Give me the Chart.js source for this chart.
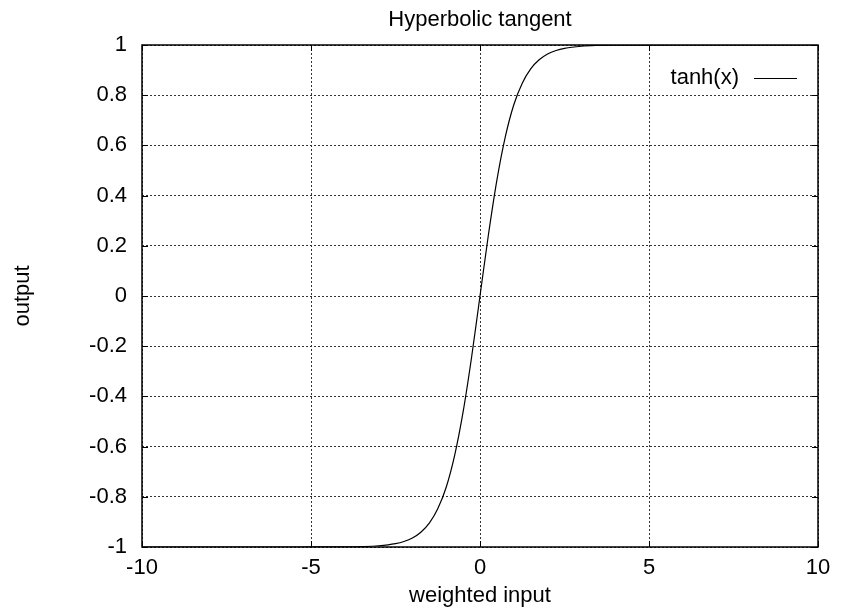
<!DOCTYPE html>
<html>
<head>
<meta charset="utf-8">
<script src="https://cdn.jsdelivr.net/npm/chart.js@4"></script>
<style>
  html, body { margin: 0; padding: 0; background: #fff; }
  #wrap { width: 845px; height: 611px; }
</style>
</head>
<body>
<div id="wrap"><canvas id="tanhChart"></canvas></div>
<script>
const xValues = [-10, -8, -6, -5, -4, -3.5, -3, -2.5, -2.25, -2, -1.75, -1.5, -1.25, -1, -0.75, -0.5, -0.25,
  0, 0.25, 0.5, 0.75, 1, 1.25, 1.5, 1.75, 2, 2.25, 2.5, 3, 3.5, 4, 5, 6, 8, 10];
const yValues = [-1, -1, -1, -0.9999, -0.9993, -0.9982, -0.9951, -0.9866, -0.978, -0.964, -0.941, -0.905, -0.848, -0.762, -0.635, -0.462, -0.245,
  0, 0.245, 0.462, 0.635, 0.762, 0.848, 0.905, 0.941, 0.964, 0.978, 0.9866, 0.9951, 0.9982, 0.9993, 0.9999, 1, 1, 1];
const xTicks = [-10, -5, 0, 5, 10];
const yTicks = [-1, -0.8, -0.6, -0.4, -0.2, 0, 0.2, 0.4, 0.6, 0.8, 1];
const chartTitle = 'Hyperbolic tangent';

const FONT = 'Liberation Sans, Arial, sans-serif';
const SIZE = 22;

// gnuplot style: title over plot area, border box, inward ticks on all sides, key text before sample
const gnuplotFrame = {
  id: 'gnuplotFrame',
  afterDatasetsDraw(chart) {
    const { ctx, chartArea: a, scales } = chart;
    ctx.save();
    ctx.fillStyle = '#000';
    ctx.font = SIZE + 'px ' + FONT;
    ctx.textAlign = 'center';
    ctx.textBaseline = 'middle';
    ctx.fillText(chartTitle, (a.left + a.right) / 2, 20);

    ctx.strokeStyle = '#000';
    ctx.lineWidth = 1;
    ctx.beginPath();
    xTicks.forEach(v => {
      const px = Math.round(scales.x.getPixelForValue(v)) + 0.5;
      ctx.moveTo(px, a.bottom); ctx.lineTo(px, a.bottom - 6);
      ctx.moveTo(px, a.top); ctx.lineTo(px, a.top + 6);
    });
    yTicks.forEach(v => {
      const py = Math.round(scales.y.getPixelForValue(v)) + 0.5;
      ctx.moveTo(a.left, py); ctx.lineTo(a.left + 6, py);
      ctx.moveTo(a.right, py); ctx.lineTo(a.right - 6, py);
    });
    ctx.stroke();
    ctx.lineWidth = 1.5;
    ctx.strokeRect(a.left, a.top, a.right - a.left, a.bottom - a.top);

    // key
    const ds = chart.data.datasets[0];
    ctx.textAlign = 'right';
    ctx.fillText(ds.label, a.right - 79, a.top + 33);
    ctx.lineWidth = 1;
    ctx.beginPath();
    ctx.moveTo(a.right - 64, a.top + 33.5);
    ctx.lineTo(a.right - 21, a.top + 33.5);
    ctx.stroke();
    ctx.restore();
  }
};

new Chart(document.getElementById('tanhChart'), {
  type: 'line',
  data: {
    datasets: [{
      label: 'tanh(x)',
      data: xValues.map((x, i) => ({ x: x, y: yValues[i] })),
      borderColor: '#000',
      borderWidth: 1.2,
      pointRadius: 0,
      fill: false,
      cubicInterpolationMode: 'monotone'
    }]
  },
  options: {
    responsive: true,
    maintainAspectRatio: false,
    animation: false,
    layout: { padding: { top: 45, right: 27, bottom: 0, left: 0 } },
    plugins: {
      legend: { display: false },
      tooltip: { enabled: false },
      title: { display: false }
    },
    scales: {
      x: {
        type: 'linear',
        min: -10,
        max: 10,
        afterBuildTicks: s => { s.ticks = xTicks.map(v => ({ value: v })); },
        afterFit: s => { s.height = 64; },
        ticks: { color: '#000', font: { family: FONT, size: SIZE }, padding: 8, maxRotation: 0,
          callback: v => String(v) },
        grid: { color: '#333', drawTicks: false },
        border: { display: false, dash: [2, 2] },
        title: {
          display: true,
          text: 'weighted input',
          color: '#000',
          font: { family: FONT, size: SIZE },
          padding: { top: 0, bottom: 2 }
        }
      },
      y: {
        type: 'linear',
        min: -1,
        max: 1,
        afterBuildTicks: s => { s.ticks = yTicks.map(v => ({ value: v })); },
        afterFit: s => { s.width = 142; },
        ticks: { color: '#000', font: { family: FONT, size: SIZE }, padding: 15,
          callback: v => String(v) },
        grid: { color: '#333', drawTicks: false },
        border: { display: false, dash: [2, 2] },
        title: {
          display: true,
          text: 'output',
          color: '#000',
          font: { family: FONT, size: SIZE },
          padding: { top: 10, bottom: 0 }
        }
      }
    }
  },
  plugins: [gnuplotFrame]
});
</script>
</body>
</html>
